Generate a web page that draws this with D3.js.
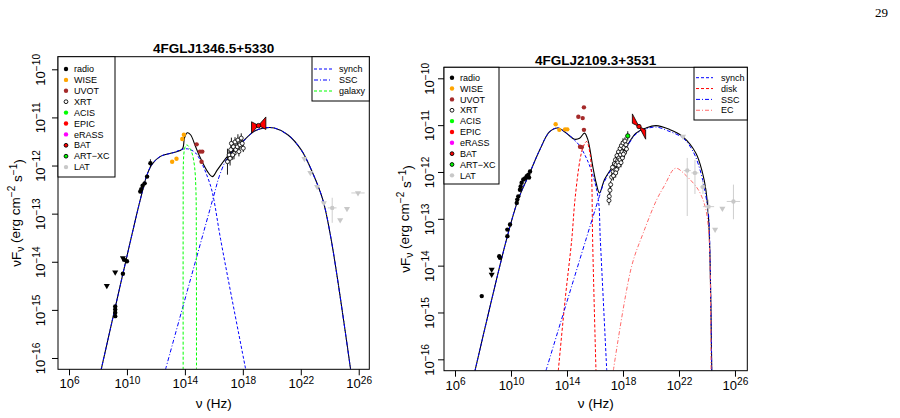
<!DOCTYPE html>
<html>
<head>
<meta charset="utf-8">
<script src="https://cdn.jsdelivr.net/npm/d3@7"></script>
<style>
  body { margin: 0; background: #fff; }
  svg { font-family: "Liberation Sans", Arial, Helvetica, sans-serif; }
</style>
</head>
<body>
<svg id="chart" width="900" height="418"></svg>
<script>
// axis ticks (log10 units)
const xTicks = [6, 10, 14, 18, 22, 26];
const yTicks = [-16, -15, -14, -13, -12, -11, -10];

const dataLegend = ['radio', 'WISE', 'UVOT', 'XRT', 'ACIS', 'EPIC', 'eRASS', 'BAT', 'ART\u2212XC', 'LAT'];
const leftModelNames = ['synch', 'SSC', 'galaxy'];
const rightModelNames = ['synch', 'disk', 'SSC', 'EC'];

// ---- 4FGLJ1346.5+5330 : [log nu, log nuFnu] ----
const leftTotal = [[8.22, -16.24], [10.92, -12.71], [11.39, -12.19], [11.74, -11.97], [12.31, -11.81],
  [13.23, -11.73], [13.82, -11.66], [13.97, -11.43], [14.16, -11.32], [14.39, -11.36], [14.74, -11.61],
  [15.08, -11.85], [15.55, -12.12], [15.90, -12.23], [16.24, -12.09], [16.94, -11.81], [17.86, -11.54],
  [18.78, -11.29], [19.47, -11.22], [20.17, -11.22], [21.10, -11.36], [22.02, -11.67], [22.83, -12.16],
  [23.52, -12.71], [24.10, -13.54], [25.44, -16.24]];
const leftSynch = [[8.22, -16.24], [10.92, -12.71], [11.39, -12.19], [11.74, -11.97], [12.31, -11.81],
  [13.23, -11.73], [13.82, -11.66], [14.3, -11.66], [14.74, -11.74], [15.08, -11.9], [15.45, -12.15],
  [15.8, -12.45], [16.0, -12.71], [16.47, -13.54], [18.2, -16.24]];
const leftSsc = [[12.66, -16.24], [16.0, -12.62], [16.4, -12.2], [16.94, -11.84], [17.86, -11.55],
  [18.78, -11.29], [19.47, -11.22], [20.17, -11.22], [21.10, -11.36], [22.02, -11.67], [22.83, -12.16],
  [23.52, -12.71], [24.10, -13.54], [25.44, -16.24]];
const leftGalaxy = [[13.88, -16.24], [13.88, -12.9], [13.9, -11.9], [13.96, -11.68], [14.05, -11.59],
  [14.14, -11.57], [14.25, -11.6], [14.4, -11.68], [14.51, -11.76], [14.67, -12.03], [14.76, -12.5],
  [14.79, -13.54], [14.8, -16.24]];

const leftRadio = [[11.62, -11.95, 0.08], [11.39, -12.23, 0], [11.22, -12.37, 0], [11.08, -12.42, 0],
  [10.99, -12.49, 0], [10.92, -12.54, 0], [9.81, -13.96, 0], [10.0, -13.99, 0], [9.72, -14.25, 0],
  [9.19, -14.93, 0], [9.19, -14.99, 0], [9.19, -15.06, 0], [9.19, -15.13, 0]];
const leftRadioUL = [[8.61, -14.5], [9.19, -14.22], [9.72, -13.92]];
const leftWise = [[13.12, -11.92], [13.42, -11.86], [13.82, -11.45], [13.93, -11.36]];
const leftUvot = [[14.81, -11.56], [15.04, -11.71], [15.2, -11.71], [15.15, -11.92]];
const leftXrt = [[16.94, -11.92, 0.27], [17.05, -11.78, 0.12], [17.17, -11.67, 0.1], [17.21, -11.54, 0.12],
  [17.35, -11.61, 0.1], [17.39, -11.75, 0.12], [17.46, -11.51, 0.1], [17.51, -11.67, 0.1],
  [17.62, -11.61, 0.08], [17.66, -11.47, 0.12], [17.73, -11.71, 0.1], [17.8, -11.57, 0.1],
  [17.89, -11.43, 0.1], [17.96, -11.54, 0.08], [18.03, -11.64, 0.08], [17.12, -11.85, 0.15],
  [17.3, -11.78, 0.1]];
// bow-tie: [nu0, a0, b0, nu1, a1, b1], pivot
const leftBatTie = [18.6, -11.09, -11.33, 19.59, -11.25, -10.99];
const leftBatPoint = [19.08, -11.17];
const leftLatUL = [[22.25, -11.86, 0], [22.66, -12.15, 0], [23.13, -12.44, 0], [23.59, -12.78, 0.15],
  [24.72, -13.13, 0], [25.19, -12.9, 0], [25.95, -12.57, 0.46]];
const leftLat = [[24.17, -12.88, 0.3, 0.31, 0.21]];

// ---- 4FGLJ2109.3+3531 ----
const rightTotal = [[7.43, -16.24], [9.68, -13.44], [10.51, -12.59], [11.34, -12.02], [12.05, -11.53],
  [12.76, -11.14], [13.35, -11.06], [13.95, -11.17], [14.54, -11.30], [14.9, -11.28], [15.25, -11.17],
  [15.49, -11.31], [15.84, -11.88], [16.08, -12.23], [16.32, -12.45], [16.68, -12.16], [17.27, -11.88],
  [18.1, -11.53], [18.93, -11.17], [19.65, -11.06], [20.36, -11.01], [21.31, -11.09], [22.25, -11.24],
  [23.21, -11.6], [23.68, -12.02], [23.92, -12.38], [24.1, -12.94], [24.22, -13.87], [24.34, -16.24]];
const rightSynch = [[7.43, -16.24], [9.68, -13.44], [10.51, -12.59], [11.34, -12.02], [12.05, -11.53],
  [12.76, -11.14], [13.35, -11.06], [13.95, -11.17], [14.54, -11.32], [14.9, -11.44], [15.38, -11.7],
  [15.84, -12.06], [16.24, -12.59], [16.38, -13.44], [16.84, -16.24]];
const rightDisk = [[13.38, -16.24], [13.87, -14.72], [14.34, -13.44], [14.57, -12.59], [14.93, -11.74],
  [15.16, -11.46], [15.4, -11.35], [15.64, -11.6], [15.76, -12.1], [15.83, -13.44], [16.07, -16.24]];
const rightSsc = [[12.5, -16.24], [16.24, -12.59], [16.68, -12.2], [17.27, -11.9], [18.1, -11.55],
  [18.93, -11.19], [19.65, -11.08], [20.36, -11.04], [21.2, -11.12], [22.31, -11.28], [23.02, -11.57],
  [23.5, -11.95], [23.86, -12.42], [24.11, -12.91], [24.22, -13.87], [24.34, -16.24]];
const rightEc = [[17.31, -16.24], [18.62, -14.01], [19.45, -13.3], [20.41, -12.59], [21.0, -12.27],
  [21.59, -11.95], [21.84, -11.92], [22.55, -12.09], [23.38, -12.38], [23.86, -12.73], [24.09, -13.16],
  [24.21, -13.87], [24.29, -16.24]];

const rightRadio = [[7.91, -14.65, 0], [9.16, -13.8, 0], [9.21, -13.83, 0], [9.74, -13.37, 0],
  [9.74, -13.23, 0], [9.93, -13.12, 0], [10.41, -12.66, 0], [10.45, -12.59, 0], [10.52, -12.52, 0],
  [10.64, -12.38, 0], [10.69, -12.31, 0], [10.76, -12.23, 0], [10.88, -12.16, 0], [11.0, -12.14, 0],
  [11.12, -12.09, 0], [11.24, -12.06, 0], [11.36, -11.99, 0], [11.29, -12.12, 0]];
const rightRadioUL = [[8.62, -14.08], [8.62, -14.19]];
const rightWise = [[13.19, -10.98], [13.45, -11.1], [13.86, -11.09], [14.02, -11.09]];
const rightUvot = [[15.21, -10.62], [14.81, -10.82], [15.12, -10.85], [15.21, -11.1], [14.93, -11.46], [15.05, -11.47]];
const rightXrt = [[17.0, -12.61, 0.1], [17.02, -12.52, 0.08], [17.07, -12.39, 0.08], [17.12, -12.27, 0.08],
  [17.19, -12.11, 0.08], [17.29, -11.99, 0.1], [17.36, -11.91, 0.1], [17.39, -11.82, 0.1],
  [17.46, -11.74, 0.1], [17.5, -11.84, 0.1], [17.57, -11.65, 0.1], [17.61, -11.76, 0.1],
  [17.68, -11.57, 0.1], [17.71, -11.7, 0.1], [17.79, -11.5, 0.1], [17.82, -11.63, 0.1],
  [17.89, -11.44, 0.1], [17.93, -11.57, 0.1], [18.0, -11.38, 0.1], [18.07, -11.48, 0.1],
  [18.14, -11.34, 0.08], [18.21, -11.42, 0.08], [17.32, -12.08, 0.1], [17.43, -11.95, 0.1],
  [17.54, -11.95, 0.1], [17.64, -11.8, 0.1], [17.79, -11.74, 0.1], [17.96, -11.7, 0.1],
  [18.11, -11.59, 0.1], [18.25, -11.51, 0.08], [17.25, -11.9, 0.1], [17.48, -12.02, 0.1],
  [17.7, -11.86, 0.1], [17.86, -11.8, 0.1], [18.03, -11.62, 0.1]];
const rightArtxc = [[18.34, -11.23, 0.1]];
const rightBatTie = [18.67, -10.76, -10.96, 19.62, -11.3, -11.1];
const rightBatPoint = [19.14, -11.03];
const rightLatUL = [[22.29, -11.24, 0], [24.58, -13.23, 0], [25.1, -12.78, 0]];
const rightLat = [[22.59, -11.97, 0.25, 0.97, 0.27], [23.14, -12.02, 0.25, 0.45, 0.28],
  [23.71, -12.32, 0.2, 0.15, 0.15], [24.11, -12.74, 0.4, 0.15, 0.15], [25.89, -12.63, 0.48, 0.38, 0.36]];

// marker styles for the data legend
const legendStyle = {
  'radio': { fill: '#000', stroke: 'none' },
  'WISE': { fill: '#FFA500', stroke: 'none' },
  'UVOT': { fill: '#A52A2A', stroke: 'none' },
  'XRT': { fill: '#fff', stroke: '#000' },
  'ACIS': { fill: '#00FF00', stroke: 'none' },
  'EPIC': { fill: '#FF0000', stroke: 'none' },
  'eRASS': { fill: '#FF00FF', stroke: 'none' },
  'BAT': { fill: '#FF0000', stroke: '#000' },
  'ART\u2212XC': { fill: '#00FF00', stroke: '#000' },
  'LAT': { fill: '#C8C8C8', stroke: 'none' }
};
const modelStyle = {
  'synch': { color: '#0000FF', dash: '3,2' },
  'SSC': { color: '#0000FF', dash: '4,2,1,2' },
  'galaxy': { color: '#00FF00', dash: '3,2' },
  'disk': { color: '#FF0000', dash: '3,2' },
  'EC': { color: '#FF6A6A', dash: '4,2,1,2' }
};
const GREY = '#C8C8C8';

const svg = d3.select('#chart');

// page number
svg.append('text')
  .attr('x', 888).attr('y', 17)
  .attr('text-anchor', 'end')
  .attr('font-family', '"Liberation Serif", "Times New Roman", serif')
  .attr('font-size', 13)
  .text('29');

function powerText(text, exp) {
  text.text(null);
  text.append('tspan').text('10');
  text.append('tspan').attr('dy', '-0.45em').attr('font-size', '0.78em').text(exp);
}

function drawPanel(p, idx) {
  const x = d3.scaleLinear().domain(p.xDom).range([p.x0, p.x1]);
  const y = d3.scaleLinear().domain(p.yDom).range([p.y1, p.y0]);
  const g = svg.append('g');

  g.append('clipPath').attr('id', 'clip' + idx)
    .append('rect')
    .attr('x', p.x0).attr('y', p.y0)
    .attr('width', p.x1 - p.x0).attr('height', p.y1 - p.y0);
  const plot = g.append('g').attr('clip-path', `url(#clip${idx})`);

  const line = d3.line()
    .x((d) => x(d[0]))
    .y((d) => y(d[1]))
    .curve(d3.curveCatmullRom.alpha(0.5));

  // model curves
  plot.append('path').attr('d', line(p.total))
    .attr('fill', 'none').attr('stroke', '#000').attr('stroke-width', 1.1);
  p.models.forEach((m) => {
    const st = modelStyle[m.name];
    plot.append('path').attr('d', line(m.pts))
      .attr('fill', 'none').attr('stroke', st.color)
      .attr('stroke-width', 1).attr('stroke-dasharray', st.dash);
  });

  const dot = (sel, data, fill, stroke, r = 2.2) => {
    sel.selectAll(null).data(data).join('circle')
      .attr('cx', (d) => x(d[0])).attr('cy', (d) => y(d[1])).attr('r', r)
      .attr('fill', fill).attr('stroke', stroke || 'none').attr('stroke-width', 0.8);
  };
  const vErr = (sel, data, color, lo, hi) => {
    sel.selectAll(null).data(data.filter((d) => lo(d) > 0 || hi(d) > 0)).join('line')
      .attr('x1', (d) => x(d[0])).attr('x2', (d) => x(d[0]))
      .attr('y1', (d) => y(d[1] + hi(d))).attr('y2', (d) => y(d[1] - lo(d)))
      .attr('stroke', color).attr('stroke-width', 0.9);
  };
  const hErr = (sel, data, color, e) => {
    sel.selectAll(null).data(data.filter((d) => e(d) > 0)).join('line')
      .attr('x1', (d) => x(d[0] - e(d))).attr('x2', (d) => x(d[0] + e(d)))
      .attr('y1', (d) => y(d[1])).attr('y2', (d) => y(d[1]))
      .attr('stroke', color).attr('stroke-width', 0.9);
  };
  const triDown = d3.symbol(d3.symbolTriangle, 16);
  const ul = (sel, data, color) => {
    sel.selectAll(null).data(data).join('path')
      .attr('d', triDown)
      .attr('transform', (d) => `translate(${x(d[0])},${y(d[1])}) rotate(180)`)
      .attr('fill', color);
  };

  // LAT (grey)
  hErr(plot, p.latUL, GREY, (d) => d[2]);
  ul(plot, p.latUL, GREY);
  vErr(plot, p.lat, GREY, (d) => d[3], (d) => d[4]);
  hErr(plot, p.lat, GREY, (d) => d[2]);
  dot(plot, p.lat, GREY);

  // radio
  vErr(plot, p.radio, '#000', (d) => d[2], (d) => d[2]);
  dot(plot, p.radio, '#000');
  ul(plot, p.radioUL, '#000');
  dot(plot, p.wise, '#FFA500');
  dot(plot, p.uvot, '#A52A2A');

  // XRT
  vErr(plot, p.xrt, '#000', (d) => d[2], (d) => d[2]);
  hErr(plot, p.xrt, '#000', () => 0.07);
  dot(plot, p.xrt, '#fff', '#000', 2);

  if (p.artxc) {
    vErr(plot, p.artxc, '#000', (d) => d[2], (d) => d[2]);
    dot(plot, p.artxc, '#00FF00', '#000', 2.2);
  }

  // BAT bow-tie
  const t = p.batTie;
  plot.append('polygon')
    .attr('points', [[t[0], t[1]], [t[3], t[4]], [t[3], t[5]], [t[0], t[2]]]
      .map((d) => `${x(d[0])},${y(d[1])}`).join(' '))
    .attr('fill', '#FF0000').attr('stroke', '#000').attr('stroke-width', 0.8)
    .attr('stroke-linejoin', 'round');
  dot(plot, [p.batPoint], '#FF0000', '#000', 2.2);

  // frame
  g.append('rect')
    .attr('x', p.x0).attr('y', p.y0)
    .attr('width', p.x1 - p.x0).attr('height', p.y1 - p.y0)
    .attr('fill', 'none').attr('stroke', '#000').attr('stroke-width', 1);

  // axes
  const xAxis = d3.axisBottom(x).tickValues(xTicks).tickSize(6).tickSizeOuter(0);
  g.append('g')
    .attr('transform', `translate(0,${p.y1})`)
    .call(xAxis)
    .call((a) => a.select('.domain').remove())
    .call((a) => a.selectAll('.tick line').attr('stroke', '#000'))
    .call((a) => a.selectAll('.tick text')
      .attr('y', 19).attr('dy', 0)
      .attr('font-size', 13).attr('fill', '#000')
      .each(function (d) { powerText(d3.select(this), String(d)); }));

  const yAxis = d3.axisLeft(y).tickValues(yTicks).tickSize(6).tickSizeOuter(0);
  g.append('g')
    .attr('transform', `translate(${p.x0},0)`)
    .call(yAxis)
    .call((a) => a.select('.domain').remove())
    .call((a) => a.selectAll('.tick line').attr('stroke', '#000'))
    .call((a) => a.selectAll('.tick text')
      .attr('transform', 'rotate(-90)')
      .attr('x', 0).attr('y', -p.tickLabelOff).attr('dy', 0)
      .attr('text-anchor', 'middle')
      .attr('font-size', 13).attr('fill', '#000')
      .each(function (d) { powerText(d3.select(this), '\u2212' + Math.abs(d)); }));

  // title and axis titles
  const cx = (p.x0 + p.x1) / 2;
  g.append('text')
    .attr('x', cx).attr('y', p.titleY)
    .attr('text-anchor', 'middle')
    .attr('font-size', 13.5).attr('font-weight', 'bold')
    .text(p.title);

  g.append('text')
    .attr('x', cx).attr('y', 408)
    .attr('text-anchor', 'middle')
    .attr('font-size', 13.5)
    .text('\u03BD (Hz)');

  const yl = g.append('text')
    .attr('transform', `translate(${p.yLabelX},${(p.y0 + p.y1) / 2}) rotate(-90)`)
    .attr('text-anchor', 'middle')
    .attr('font-size', 13.5);
  yl.append('tspan').text('\u03BDF');
  yl.append('tspan').attr('dy', '0.3em').attr('font-size', '0.75em').text('\u03BD');
  yl.append('tspan').attr('dy', '-0.3em').text(' (erg cm');
  yl.append('tspan').attr('dy', '-0.45em').attr('font-size', '0.75em').text('\u22122');
  yl.append('tspan').attr('dy', '0.45em').text(' s');
  yl.append('tspan').attr('dy', '-0.45em').attr('font-size', '0.75em').text('\u22121');
  yl.append('tspan').attr('dy', '0.45em').text(')');

  // data legend
  const lg = p.legend;
  g.append('rect')
    .attr('x', p.x0).attr('y', p.y0)
    .attr('width', lg.x1 - p.x0).attr('height', lg.y1 - p.y0)
    .attr('fill', '#fff').attr('stroke', '#000').attr('stroke-width', 1);
  dataLegend.forEach((name, i) => {
    const yy = lg.top + i * lg.step;
    const st = legendStyle[name];
    g.append('circle')
      .attr('cx', lg.sx).attr('cy', yy)
      .attr('r', st.stroke === 'none' ? 2.2 : 1.9)
      .attr('fill', st.fill).attr('stroke', st.stroke).attr('stroke-width', 0.9);
    g.append('text')
      .attr('x', lg.tx).attr('y', yy).attr('dy', '0.35em')
      .attr('font-size', 9).text(name);
  });

  // model legend
  const ml = p.modelLegend;
  g.append('rect')
    .attr('x', ml.x0).attr('y', p.y0)
    .attr('width', p.x1 - ml.x0).attr('height', ml.y1 - p.y0)
    .attr('fill', '#fff').attr('stroke', '#000').attr('stroke-width', 1);
  p.modelNames.forEach((name, i) => {
    const yy = ml.top + i * ml.step;
    const st = modelStyle[name];
    g.append('line')
      .attr('x1', ml.lx0).attr('x2', ml.lx1).attr('y1', yy).attr('y2', yy)
      .attr('stroke', st.color).attr('stroke-width', 1).attr('stroke-dasharray', st.dash);
    g.append('text')
      .attr('x', ml.tx).attr('y', yy).attr('dy', '0.35em')
      .attr('font-size', 9).text(name);
  });
}

drawPanel({
  x0: 58, x1: 369.3, y0: 56.7, y1: 369.3,
  xDom: [5.24, 26.73], yDom: [-16.235, -9.738],
  title: '4FGLJ1346.5+5330', titleY: 53, tickLabelOff: 13, yLabelX: 21,
  total: leftTotal,
  models: [{ name: 'synch', pts: leftSynch }, { name: 'SSC', pts: leftSsc }, { name: 'galaxy', pts: leftGalaxy }],
  modelNames: leftModelNames,
  radio: leftRadio, radioUL: leftRadioUL, wise: leftWise, uvot: leftUvot, xrt: leftXrt,
  batTie: leftBatTie, batPoint: leftBatPoint, lat: leftLat, latUL: leftLatUL,
  legend: { x1: 115, y1: 177, top: 69, step: 10.9, sx: 66, tx: 74 },
  modelLegend: { x0: 312, y1: 101, top: 69, step: 11, lx0: 314, lx1: 332, tx: 339 }
}, 0);

drawPanel({
  x0: 444, x1: 747.3, y0: 67.3, y1: 370.7,
  xDom: [5.214, 26.88], yDom: [-16.243, -9.765],
  title: '4FGLJ2109.3+3531', titleY: 65, tickLabelOff: 10, yLabelX: 410,
  total: rightTotal,
  models: [{ name: 'synch', pts: rightSynch }, { name: 'disk', pts: rightDisk },
    { name: 'SSC', pts: rightSsc }, { name: 'EC', pts: rightEc }],
  modelNames: rightModelNames,
  radio: rightRadio, radioUL: rightRadioUL, wise: rightWise, uvot: rightUvot, xrt: rightXrt,
  artxc: rightArtxc,
  batTie: rightBatTie, batPoint: rightBatPoint, lat: rightLat, latUL: rightLatUL,
  legend: { x1: 499, y1: 184, top: 77.7, step: 10.85, sx: 452, tx: 460 },
  modelLegend: { x0: 694, y1: 120, top: 77.7, step: 10.85, lx0: 696, lx1: 713, tx: 721 }
}, 1);
</script>
</body>
</html>
